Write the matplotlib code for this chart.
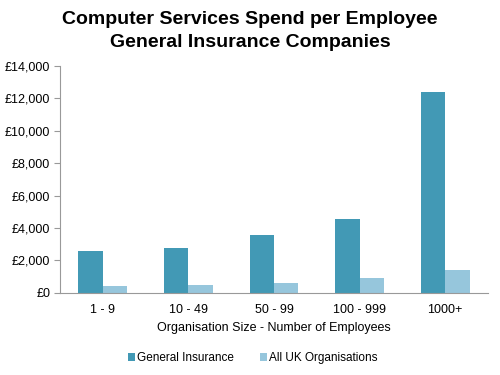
import matplotlib
matplotlib.use("Agg")
import matplotlib.pyplot as plt
import numpy as np
from matplotlib.ticker import FuncFormatter

plt.rcParams['font.family'] = ['Liberation Sans', 'DejaVu Sans']

categories = ['1 - 9', '10 - 49', '50 - 99', '100 - 999', '1000+']
general_insurance = [2610, 2780, 3580, 4560, 12420]
all_uk = [450, 510, 640, 920, 1440]

fig = plt.figure(figsize=(5, 3.75), dpi=100)
ax = fig.add_axes([0.12, 0.219, 0.856, 0.605])

x = np.arange(len(categories))
w = 0.286
ax.bar(x - w/2, general_insurance, w, color='#4299B5', label='General Insurance')
ax.bar(x + w/2, all_uk, w, color='#96C6DC', label='All UK Organisations')

ax.set_xlim(-0.5, len(categories) - 0.5)
ax.set_ylim(0, 14000)
ax.set_yticks(range(0, 14001, 2000))
ax.yaxis.set_major_formatter(FuncFormatter(lambda v, p: '£{:,.0f}'.format(v)))
ax.set_xticks(x)
ax.set_xticklabels(categories)
ax.tick_params(axis='x', length=0, labelsize=9, pad=8)
ax.tick_params(axis='y', length=4, color='#999999', labelsize=9, pad=3)

for s in ['top', 'right']:
    ax.spines[s].set_visible(False)
for s in ['left', 'bottom']:
    ax.spines[s].set_color('#999999')

ax.set_xlabel('Organisation Size - Number of Employees', fontsize=9, labelpad=4)

fig.suptitle('Computer Services Spend per Employee\nGeneral Insurance Companies',
             fontsize=14, fontweight='bold', y=0.97, linespacing=1.45)

fig.legend(loc='lower center', bbox_to_anchor=(0.505, 0.0), ncol=2, frameon=False,
           fontsize=8.5, handlelength=0.6, handleheight=0.6, columnspacing=2.2,
           handletextpad=0.15)

fig.savefig('out.png', dpi=100)
